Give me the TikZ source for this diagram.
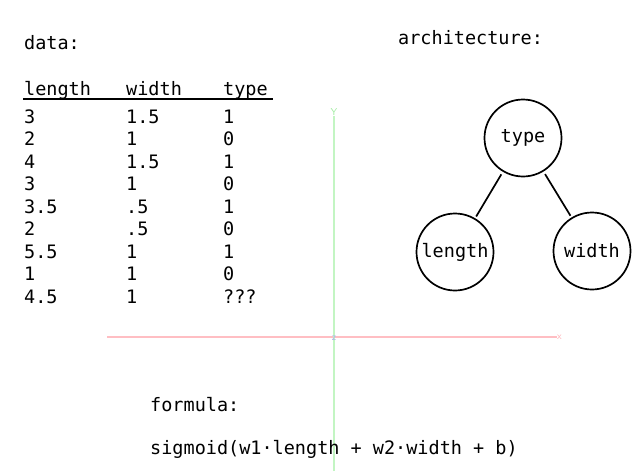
\documentclass[tikz,border=0pt]{standalone}
\usepackage{fontspec}
\setmonofont{DejaVu Sans Mono}
\begin{document}
\begin{tikzpicture}[x=1pt,y=-1pt,
  txt/.style={font=\fontsize{18.5}{22}\ttfamily, inner sep=0pt, anchor=base west},
  ax/.style={font=\fontsize{10}{11}\sffamily, inner sep=0pt},
  neuron/.style={draw, circle, line width=1.7pt, minimum size=77pt, inner sep=0pt, font=\fontsize{18.5}{22}\ttfamily},
  link/.style={line width=1.7pt, shorten <=3pt, shorten >=2pt}]
\useasboundingbox (0,0) rectangle (639,471);
% axes
\coordinate (xs) at (107,337);
\coordinate (xe) at (557,337);
\coordinate (ys) at (334,471);
\coordinate (ye) at (334,116);
\draw[line width=1.6pt, color={rgb,255:red,255;green,190;blue,195}] (xs) -- (xe);
\draw[line width=1.6pt, color={rgb,255:red,195;green,245;blue,195}] (ys) -- (ye);
\node[ax, text={rgb,255:red,255;green,175;blue,180}, anchor=west] (xl) at (557,337.5) {x};
\node[ax, text={rgb,255:red,160;green,235;blue,160}] (yl) at (334,112) {Y};
\node[ax, text={rgb,255:red,170;green,175;blue,235}] (zl) at (334,338) {z};
% titles
\node[txt] (data) at (24,49) {data:};
\node[txt] (arch) at (398,44) {architecture:};
% table header
\node[txt] (h1) at (24,95) {length};
\node[txt] (h2) at (126,95) {width};
\node[txt] (h3) at (223,95) {type};
\coordinate (ul) at (23,99);
\coordinate (ur) at (273,99);
\draw[line width=1.7pt] (ul) -- (ur);
% rows
\foreach \a/\b/\c [count=\i from 0] in {3/1.5/1, 2/1/0, 4/1.5/1, 3/1/0, 3.5/.5/1, 2/.5/0, 5.5/1/1, 1/1/0, 4.5/1/???} {
  \node[txt] (r\i a) at (24,123+22.5*\i) {\a};
  \node[txt] (r\i b) at (126,123+22.5*\i) {\b};
  \node[txt] (r\i c) at (223,123+22.5*\i) {\c};
}
% architecture
\node[neuron] (type) at (523,138) {type};
\node[neuron] (len) at (455,252) {length};
\node[neuron] (wid) at (592,251) {width};
\draw[link] (type) -- (len);
\draw[link] (type) -- (wid);
% formula
\node[txt] (fl) at (150,411) {formula:};
\node[txt] (fm) at (150,454) {sigmoid(w1·length + w2·width + b)};
\end{tikzpicture}
\end{document}
